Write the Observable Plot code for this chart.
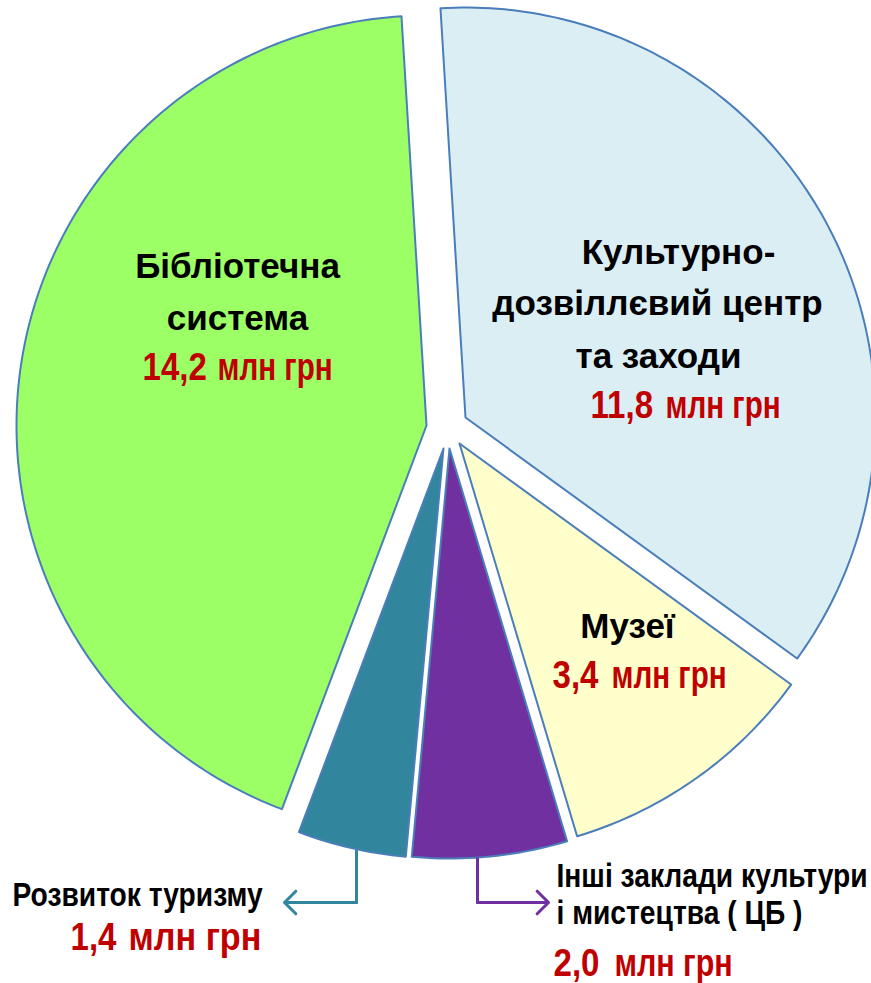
<!DOCTYPE html>
<html><head><meta charset="utf-8">
<script src="https://cdn.jsdelivr.net/npm/d3@7"></script>
<script src="https://cdn.jsdelivr.net/npm/@observablehq/plot@0.6"></script>
<style>body{margin:0;background:#fff;} svg{display:block}</style>
</head><body><div id="chart"></div>
<script>
// ---- data ----
const categories = [
  "Культурно-дозвіллєвий центр та заходи",
  "Музеї",
  "Інші заклади культури і мистецтва ( ЦБ )",
  "Розвиток туризму",
  "Бібліотечна система"
];
const valuesMln = [11.8, 3.4, 2.0, 1.4, 14.2];
const valueText = ["11,8", "3,4", "2,0", "1,4", "14,2"];
const unitText = "млн грн";
const labelLines = [
  ["Культурно-", "дозвіллєвий центр", "та заходи"],
  ["Музеї"],
  ["Інші заклади культури", "і мистецтва ( ЦБ )"],
  ["Розвиток туризму"],
  ["Бібліотечна", "система"]
];
const sliceColors = ["#daeef3", "#ffffcc", "#7030a0", "#31859c", "#9cff66"];

// ---- layout ----
const W = 871, H = 983;
const center = [446, 437], R = 410;
const startDeg = -3.5;
const explode = [[19, -20], [13, 6], [3, 11], [-3, 11], [-20, -12]];
const outside = [false, false, true, true, false]; // labels placed outside the pie
const nameLayout = [
  [[678, 263, "middle"], [657, 314, "middle"], [658, 367, "middle"]],
  [[627, 637, "middle"]],
  [[556, 886, "start"], [556, 923, "start"]],
  [[12, 905, "start"]],
  [[237, 277, "middle"], [237, 329, "middle"]]
];
// [digitsX, unitsX, baseline, unitsCondense]
const valueLayout = [[590, 665, 417, 0.78], [552, 611, 687, 0.78], [553, 614, 975, 0.8], [70, 128, 949, 0.9], [142, 217, 379, 0.78]];
const leaders = [
  {i: 3, pts: [[356, 850], [356, 902]], arrowTo: [284, 902], color: "#31859c"},
  {i: 2, pts: [[477, 858], [477, 902]], arrowTo: [548, 902], color: "#7030a0"}
];

const arcs = d3.pie().sort(null)
  .startAngle(startDeg * Math.PI / 180)
  .endAngle((startDeg + 360) * Math.PI / 180)(valuesMln);

const slicePts = [];
arcs.forEach((a, i) => {
  const ox = center[0] + explode[i][0], oy = center[1] + explode[i][1];
  const name = categories[i], fill = sliceColors[i];
  slicePts.push({name, x: ox, y: oy, fill});
  const n = Math.max(8, Math.ceil((a.endAngle - a.startAngle) * 180 / Math.PI));
  for (let k = 0; k <= n; k++) {
    const t = a.startAngle + (a.endAngle - a.startAngle) * k / n;
    slicePts.push({name, x: ox + R * Math.sin(t), y: oy - R * Math.cos(t), fill});
  }
});

const nameRows = [];
labelLines.forEach((lines, i) => lines.forEach((t, j) => {
  const [x, y, anchor] = nameLayout[i][j];
  nameRows.push({text: t, x, y, anchor, sx: outside[i] ? 0.855 : 1, small: outside[i]});
}));
const digitRows = valueText.map((t, i) => ({text: t, x: valueLayout[i][0], y: valueLayout[i][2], anchor: "start", sx: 0.87}));
const unitRows = valueText.map((t, i) => ({text: unitText, x: valueLayout[i][1], y: valueLayout[i][2], anchor: "start", sx: valueLayout[i][3]}));

const leaderPts = leaders.flatMap(l => l.pts.map(p => ({x: p[0], y: p[1], z: l.i, c: l.color})));
const arrowRows = leaders.map(l => ({x1: l.pts[l.pts.length-1][0], y1: l.pts[l.pts.length-1][1], x2: l.arrowTo[0], y2: l.arrowTo[1], c: l.color}));

const FONT = "'Liberation Sans', Arial, sans-serif";

const textMark = (rows, opts) => ["start", "middle"].map(anchor =>
  Plot.text(rows.filter(r => (r.anchor || "start") === anchor), {
    x: "x", y: "y", text: "text", textAnchor: anchor, lineAnchor: "bottom",
    fontFamily: FONT, fontWeight: "bold",
    render(index, scales, values, dims, ctx, next) {
      const g = next(index, scales, values, dims, ctx);
      // condense the bold sans horizontally where the original uses a narrow face
      const rowsA = rows.filter(r => (r.anchor || "start") === anchor);
      d3.select(g).selectAll("text").each(function(_, k) {
        const sx = rowsA[index[k]].sx;
        if (sx === 1) return;
        const el = d3.select(this);
        const tr = el.attr("transform");
        if (tr) el.attr("transform", tr + ` scale(${sx},1)`);
        else {
          const x = +el.attr("x") || 0, y = +el.attr("y") || 0;
          el.attr("x", null).attr("y", null).attr("transform", `translate(${x},${y}) scale(${sx},1)`);
        }
      });
      return g;
    },
    ...opts
  }));

const chart = Plot.plot({
  width: W, height: H,
  margin: 0,
  x: {domain: [0, W], range: [0, W], axis: null},
  y: {domain: [0, H], range: [0, H], axis: null},
  color: {type: "identity"},
  style: {background: "transparent"},
  marks: [
    Plot.line(slicePts, {x: "x", y: "y", z: "name", fill: "fill", stroke: "#4a7ebb", strokeWidth: 2, curve: "linear-closed", strokeLinejoin: "round"}),
    Plot.line(leaderPts, {x: "x", y: "y", z: "z", stroke: "c", strokeWidth: 3}),
    Plot.arrow(arrowRows, {x1: "x1", y1: "y1", x2: "x2", y2: "y2", stroke: "c", strokeWidth: 3, headLength: 8, headAngle: 90}),
    ...textMark(nameRows.filter(r => !r.small), {fill: "#000", fontSize: 35}),
    ...textMark(nameRows.filter(r => r.small), {fill: "#000", fontSize: 33}),
    ...textMark(digitRows, {fill: "#c00000", fontSize: 38}),
    ...textMark(unitRows, {fill: "#c00000", fontSize: 38})
  ]
});
document.getElementById("chart").appendChild(chart);
</script>
</body></html>
